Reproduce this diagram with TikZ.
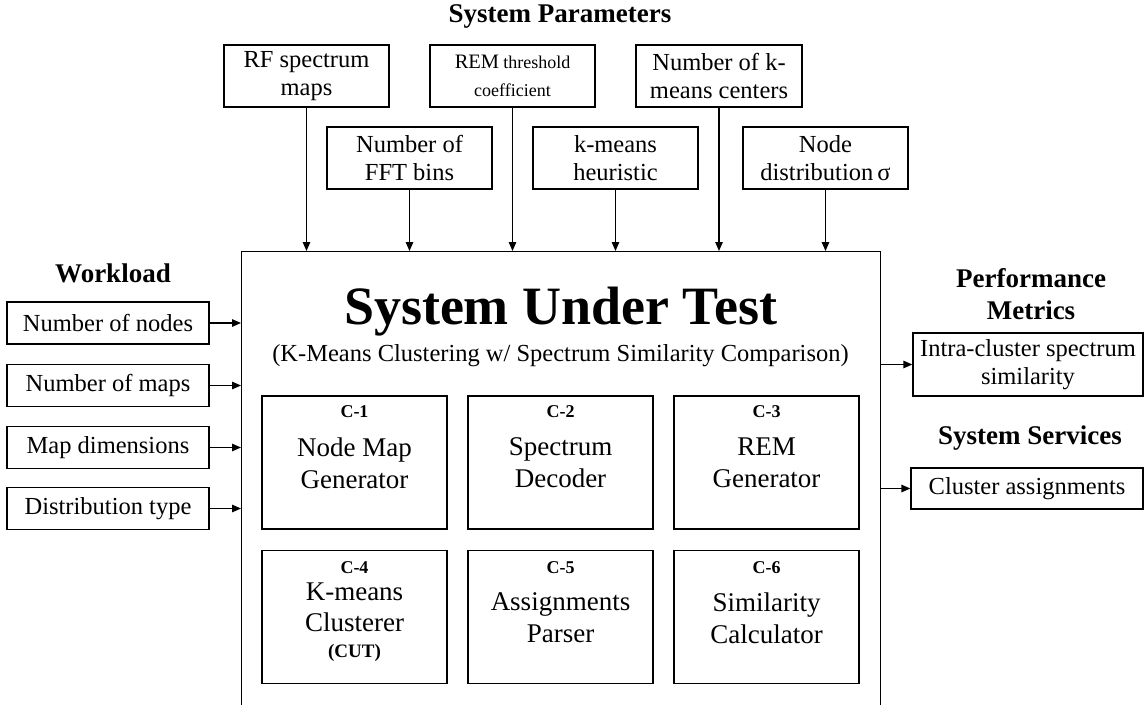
\documentclass[tikz,border=0pt]{standalone}
\usepackage{fontspec}
\setmainfont{Liberation Serif}
\usetikzlibrary{arrows.meta}
\begin{document}
\begin{tikzpicture}[x=1pt,y=-1pt,
  box/.style={draw, line width=1.3pt, inner sep=0pt, align=center,
    font=\fontsize{24.5}{28}\selectfont},
  arr/.style={line width=1.3pt, -{Triangle[length=9pt,width=7.5pt]}},
  ttl/.style={font=\fontsize{27}{32}\selectfont\bfseries, align=center, inner sep=0pt},
  comp/.style={draw, line width=1.3pt, minimum width=185pt, minimum height=133pt, inner sep=0pt},
  clab/.style={font=\fontsize{18}{20}\selectfont\bfseries, inner sep=0pt},
  cname/.style={font=\fontsize{27}{32}\selectfont, align=center, inner sep=0pt}]
\useasboundingbox (0,0) rectangle (1145,704);
% system under test
\node[draw, line width=1.3pt, minimum width=639pt, minimum height=480pt, anchor=north west, inner sep=0pt] (sut) at (241,251) {};
\node[font=\fontsize{54}{60}\selectfont\bfseries, inner sep=0pt] (suttitle) at (560.5,312) {System Under Test};
\node[font=\fontsize{24.5}{28}\selectfont, inner sep=0pt] (sutsub) at (560.5,356) {(K-Means Clustering w/ Spectrum Similarity Comparison)};
% titles
\node[ttl] (tsp) at (560,16) {System Parameters};
\node[ttl] (twl) at (113,273) {Workload};
\node[ttl] (tpm) at (1031,294) {Performance\\Metrics};
\node[ttl] (tss) at (1030,438) {System Services};
% parameter boxes
\node[box, minimum width=165pt, minimum height=62pt] (p1) at (306.5,76) {RF spectrum\\maps};
\node[box, minimum width=165pt, minimum height=62pt] (p2) at (512.5,76) {{\fontsize{20.5}{26}\selectfont REM}\,{\fontsize{18}{26}\selectfont threshold}\\{\fontsize{18}{26}\selectfont coefficient}};
\node[box, minimum width=166pt, minimum height=62pt] (p3) at (719,76) {Number of k-\\means centers};
\node[box, minimum width=165pt, minimum height=62pt] (p4) at (409.5,158) {Number of\\FFT bins};
\node[box, minimum width=165pt, minimum height=62pt] (p5) at (615.5,158) {k-means\\heuristic};
\node[box, minimum width=165pt, minimum height=62pt] (p6) at (825.5,158) {Node\\distribution\,σ};
\foreach \p in {p1,p2,p3,p4,p5,p6}
  \draw[arr] (\p.south) -- (\p.south |- sut.north);
% workload boxes
\node[box, minimum width=202pt, minimum height=42pt] (w1) at (108,323) {Number of nodes};
\node[box, minimum width=202pt, minimum height=42pt] (w2) at (108,385.5) {Number of maps};
\node[box, minimum width=202pt, minimum height=42pt] (w3) at (108,447.5) {Map dimensions};
\node[box, minimum width=202pt, minimum height=42pt] (w4) at (108,508.5) {Distribution type};
\foreach \w in {w1,w2,w3,w4}
  \draw[arr] (\w.east) -- (\w.east -| sut.west);
% outputs
\node[box, minimum width=230pt, minimum height=63pt] (o1) at (1028,364.5) {Intra-cluster spectrum\\similarity};
\node[box, minimum width=232pt, minimum height=41pt] (o2) at (1027,488.5) {Cluster assignments};
\draw[arr] (sut.east |- o1.west) -- (o1.west);
\draw[arr] (sut.east |- o2.west) -- (o2.west);
% components
\node[comp] (c1) at (354.5,462.5) {};
\node[comp] (c2) at (560.5,462.5) {};
\node[comp] (c3) at (766.5,462.5) {};
\node[comp] (c4) at (354.5,617) {};
\node[comp] (c5) at (560.5,617) {};
\node[comp] (c6) at (766.5,617) {};
\node[clab] (l1) at (354.5,412) {C-1};
\node[clab] (l2) at (560.5,412) {C-2};
\node[clab] (l3) at (766.5,412) {C-3};
\node[clab] (l4) at (354.5,568) {C-4};
\node[clab] (l5) at (560.5,568) {C-5};
\node[clab] (l6) at (766.5,568) {C-6};
\node[cname] (n1) at (354.5,463) {Node Map\\Generator};
\node[cname] (n2) at (560.5,463) {Spectrum\\Decoder};
\node[cname] (n3) at (766.5,463) {REM\\Generator};
\node[cname, font=\fontsize{27}{31}\selectfont] (n4) at (354.5,607) {K-means\\Clusterer};
\node[clab, font=\fontsize{19}{21}\selectfont\bfseries] (n4b) at (354.5,653) {(CUT)};
\node[cname] (n5) at (560.5,618) {Assignments\\Parser};
\node[cname] (n6) at (766.5,618) {Similarity\\Calculator};
\end{tikzpicture}
\end{document}
